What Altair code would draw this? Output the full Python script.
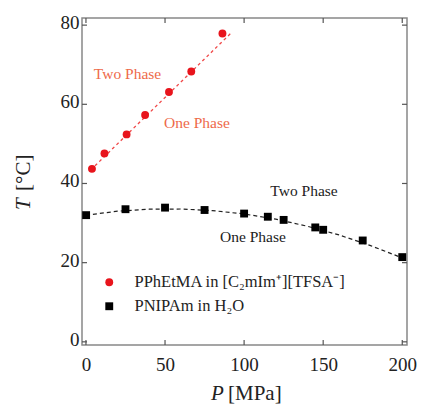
import altair as alt
import pandas as pd

# ---- data ----
red_P = [3.8, 11.7, 25.7, 37.4, 52.5, 66.6, 86.3]
red_T = [43.7, 47.6, 52.4, 57.3, 63.1, 68.3, 77.9]

black_P = [0.1, 25, 50, 75, 100, 115, 125, 145, 150, 175, 200]
black_T = [32.0, 33.5, 33.9, 33.3, 32.4, 31.6, 30.8, 28.9, 28.3, 25.6, 21.4]

fit_red_P = [3, 92]
fit_red_T = [43.4, 78.1]

fit_black_P = [0, 20, 40, 60, 80, 100, 120, 140, 160, 180, 200]
fit_black_T = [32.0, 33.0, 33.5, 33.55, 33.15, 32.3, 31.0, 29.2, 27.0, 24.3, 21.2]

series_names = ["PPhEtMA in [C\u2082mIm\u207a][TFSA\u207b]", "PNIPAm in H\u2082O"]

red_label_P = [26.3, 70.2]
red_label_T = [66.5, 54.0]
black_label_P = [137.9, 105.6]
black_label_T = [36.9, 25.3]
label_text = ["Two Phase", "One Phase"]

x_ticks = [0, 50, 100, 150, 200]
y_ticks = [0, 20, 40, 60, 80]

# ---- tables ----
pts = pd.concat([
    pd.DataFrame({"P": red_P, "T": red_T, "series": series_names[0]}),
    pd.DataFrame({"P": black_P, "T": black_T, "series": series_names[1]}),
])
red_fit = pd.DataFrame({"P": fit_red_P, "T": fit_red_T})
black_fit = pd.DataFrame({"P": fit_black_P, "T": fit_black_T})
red_labels = pd.DataFrame({"P": red_label_P, "T": red_label_T, "text": label_text})
black_labels = pd.DataFrame({"P": black_label_P, "T": black_label_T, "text": label_text})
xt = pd.DataFrame({"tick": x_ticks})
yt = pd.DataFrame({"tick": y_ticks})
one = pd.DataFrame({"a": [0]})

W, H = 325, 327
FONT = "Liberation Serif"
RED = "#e8141c"

xscale = alt.Scale(domain=[-2.5, 203], nice=False, zero=False)
yscale = alt.Scale(domain=[-0.8, 81.8], nice=False, zero=False)

xaxis = alt.Axis(values=x_ticks, title=None, grid=False, domain=False, ticks=False, tickSize=0,
                 labelFont=FONT, labelFontSize=19, labelColor="#222", labelPadding=25,
                 labelBaseline="alphabetic", labelOverlap=False, labelBound=False, labelFlush=False)
yaxis = alt.Axis(values=y_ticks, title=None, grid=False, domain=False, ticks=False, tickSize=0,
                 labelFont=FONT, labelFontSize=19, labelColor="#222", labelPadding=3,
                 labelBaseline="alphabetic", labelOffset=3.5)


def X(field):
    return alt.X(field, scale=xscale, axis=xaxis)


def Y(field):
    return alt.Y(field, scale=yscale, axis=yaxis)


legend = alt.Legend(title=None, orient="none", legendX=19, legendY=256,
                    labelFont=FONT, labelFontSize=16.5, labelColor="#222",
                    labelLimit=400, labelOffset=17, rowPadding=7, padding=0,
                    symbolSize=62, symbolStrokeWidth=0)

red_line = alt.Chart(red_fit).mark_line(color="#f04848", strokeDash=[3, 3], strokeWidth=1.3).encode(
    x=X("P:Q"), y=Y("T:Q"))
black_line = alt.Chart(black_fit).mark_line(color="#222", strokeDash=[4, 3], strokeWidth=1.2).encode(
    x=X("P:Q"), y=Y("T:Q"))

points = alt.Chart(pts).mark_point(filled=True, opacity=1, size=62).encode(
    x=X("P:Q"), y=Y("T:Q"),
    color=alt.Color("series:N", scale=alt.Scale(domain=series_names, range=[RED, "#000000"]),
                    legend=legend),
    shape=alt.Shape("series:N", scale=alt.Scale(domain=series_names, range=["circle", "square"]),
                    legend=legend),
)

red_text = alt.Chart(red_labels).mark_text(font=FONT, fontSize=15.5, baseline="alphabetic",
                                           align="center", color="#ee6a4a").encode(
    x=X("P:Q"), y=Y("T:Q"), text="text:N")
black_text = alt.Chart(black_labels).mark_text(font=FONT, fontSize=15.5, baseline="alphabetic",
                                               align="center", color="#222").encode(
    x=X("P:Q"), y=Y("T:Q"), text="text:N")

tick_style = dict(color="#555", strokeWidth=1.2)
tb = alt.Chart(xt).mark_rule(**tick_style).encode(
    x=X("tick:Q"), y=alt.value(H), y2=alt.value(H - 5))
tt = alt.Chart(xt).mark_rule(**tick_style).encode(
    x=X("tick:Q"), y=alt.value(0), y2=alt.value(5))
tl = alt.Chart(yt).mark_rule(**tick_style).encode(
    y=Y("tick:Q"), x=alt.value(0), x2=alt.value(5))
tr = alt.Chart(yt).mark_rule(**tick_style).encode(
    y=Y("tick:Q"), x=alt.value(W), x2=alt.value(W - 5))

# axis titles (italic symbol + roman unit)
xt_sym = alt.Chart(one).mark_text(font=FONT, fontSize=21, fontStyle="italic", align="left",
                                  baseline="alphabetic", color="#222").encode(
    x=alt.value(129), y=alt.value(382), text=alt.value("P"))
xt_unit = alt.Chart(one).mark_text(font=FONT, fontSize=21, align="left",
                                   baseline="alphabetic", color="#222").encode(
    x=alt.value(146), y=alt.value(382), text=alt.value("[MPa]"))
yt_sym = alt.Chart(one).mark_text(font=FONT, fontSize=21, fontStyle="italic", align="left",
                                  baseline="middle", angle=270, color="#222").encode(
    x=alt.value(-58), y=alt.value(192), text=alt.value("T"))
yt_unit = alt.Chart(one).mark_text(font=FONT, fontSize=21, align="left",
                                   baseline="middle", angle=270, color="#222").encode(
    x=alt.value(-58), y=alt.value(173), text=alt.value("[°C]"))

chart = alt.layer(
    red_line, black_line, points, red_text, black_text, tb, tt, tl, tr,
    xt_sym, xt_unit, yt_sym, yt_unit,
).properties(
    width=W, height=H,
    autosize=alt.AutoSizeParams(type="none"),
    padding={"left": 74, "top": 10, "right": 10, "bottom": 60},
).configure_view(stroke="#888", strokeWidth=1.5)

chart.save("out.html", embed_options={"renderer": "svg", "actions": False})
